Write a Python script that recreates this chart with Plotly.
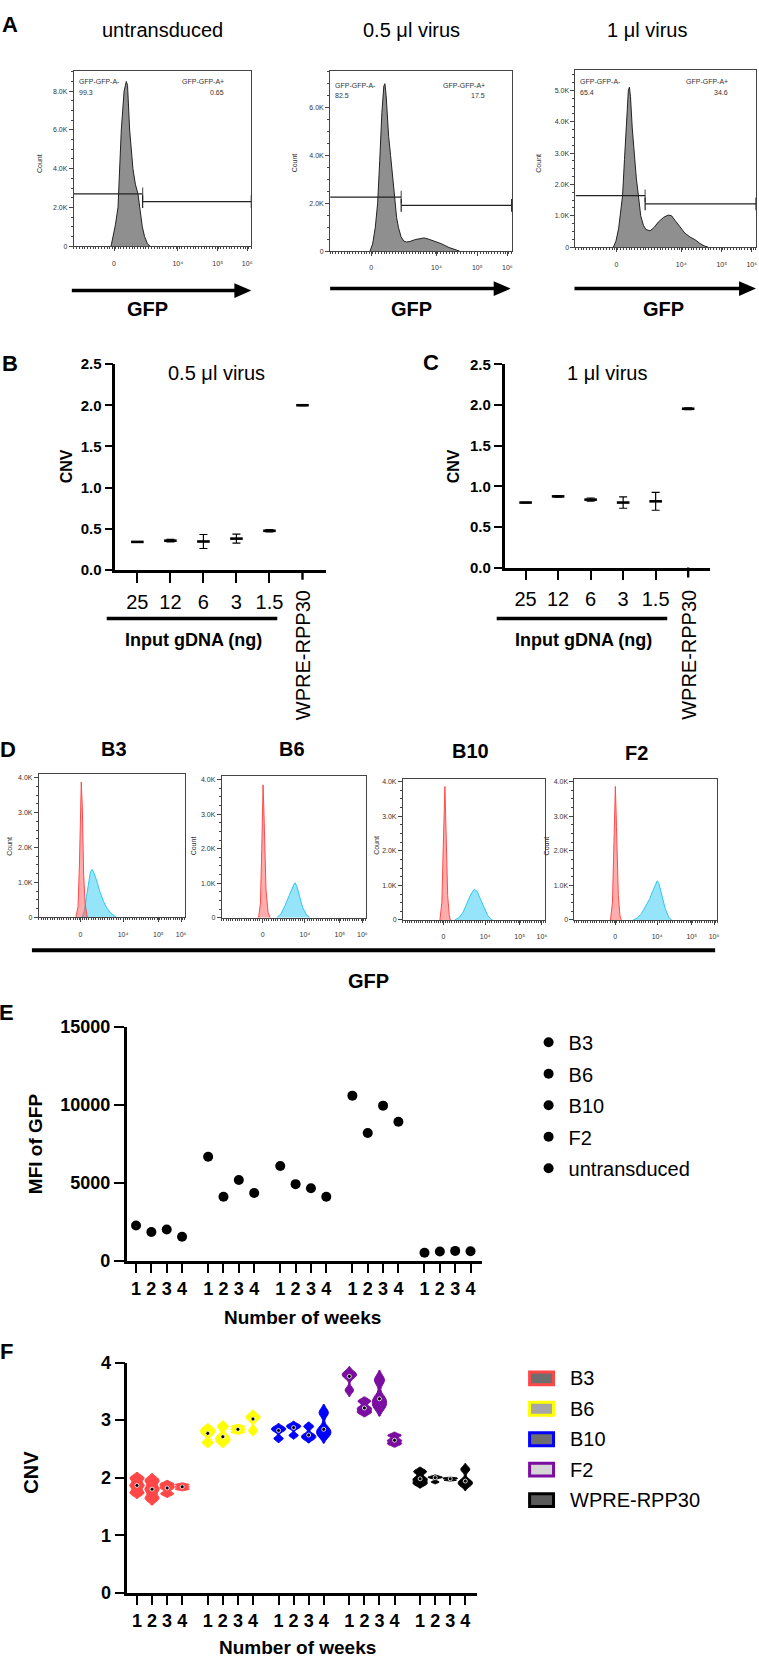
import numpy as np
import plotly.graph_objects as go

W, H = 759, 1665
FONT = "Liberation Sans, Arial, sans-serif"

# ======================= DATA =======================
# Panel A: flow histograms (display channel 0-1024, event count)
a_titles = ["untransduced", "0.5 μl virus", "1 μl virus"]
a1_channel = [215, 226, 240, 255, 265, 274, 290, 303, 310, 322, 341, 355, 370, 380, 395, 408, 425, 440]
a1_count = [0, 500, 1100, 2000, 4000, 6000, 8000, 8500, 8300, 6000, 4000, 3200, 2700, 2000, 1000, 500, 120, 0]
a2_channel = [225, 240, 255, 268, 280, 292, 303, 309, 316, 330, 341, 352, 364, 375, 385, 400, 415, 430,
              450, 480, 510, 530, 555, 590, 630, 670, 700, 730]
a2_count = [0, 300, 1000, 2000, 3800, 5800, 6900, 7000, 6500, 4800, 4000, 3000, 2260, 1400, 1000, 600, 420, 380,
            400, 480, 540, 550, 500, 400, 300, 150, 70, 0]
a3_channel = [215, 230, 245, 258, 267, 278, 290, 300, 306, 312, 322, 335, 345, 357, 370, 385, 400, 423, 445,
              470, 500, 525, 545, 565, 590, 620, 650, 677, 705, 730, 752]
a3_count = [0, 200, 600, 1200, 1640, 2800, 4200, 5000, 5100, 4800, 3800, 2800, 2200, 1640, 1000, 700, 560, 520, 620,
            800, 950, 1020, 1000, 850, 650, 450, 320, 240, 120, 40, 0]
a_gate_split = [397, 401, 395]
a_gate_neg_level = [2700, 2260, 1640]
a_gate_pos_level = [2300, 1910, 1380]
a_gate_neg_pct = ["99.3", "82.5", "65.4"]
a_gate_pos_pct = ["0.65", "17.5", "34.6"]
a_ymax = [9030, 7520, 5640]
a_yticks = [[0, 2000, 4000, 6000, 8000], [0, 2000, 4000, 6000], [0, 1000, 2000, 3000, 4000, 5000]]
a_yticktext = [["0", "2.0K", "4.0K", "6.0K", "8.0K"], ["0", "2.0K", "4.0K", "6.0K"],
               ["0", "1.0K", "2.0K", "3.0K", "4.0K", "5.0K"]]
flow_xticktext = ["0", "10⁴", "10⁵", "10⁶"]

# Panels B / C: CNV vs input gDNA
cnv_categories = ["25", "12", "6", "3", "1.5", "WPRE-RPP30"]
cnv_b_mean = [0.34, 0.355, 0.345, 0.38, 0.475, 2.0]
cnv_b_err = [0.004, 0.015, 0.085, 0.055, 0.015, 0.004]
cnv_c_mean = [0.80, 0.876, 0.836, 0.80, 0.815, 1.955]
cnv_c_err = [0.004, 0.01, 0.02, 0.07, 0.11, 0.012]

# Panel D: clone histograms (red = untransduced, blue = clone)
d_titles = ["B3", "B6", "B10", "F2"]
d1_red_ch = [260, 275, 285, 292, 298, 305, 315, 325, 340]
d1_red = [0, 300, 1500, 3000, 3880, 3200, 1200, 400, 0]
d1_blue_ch = [305, 320, 335, 350, 362, 374, 390, 410, 430, 455, 480, 505, 530, 545]
d1_blue = [0, 200, 600, 1000, 1300, 1370, 1250, 1000, 720, 450, 250, 120, 40, 0]
d2_red_ch = [262, 275, 285, 294, 302, 315, 330, 345]
d2_red = [0, 400, 2000, 3850, 2800, 800, 150, 0]
d2_blue_ch = [390, 420, 450, 480, 500, 515, 522, 535, 555, 575, 600, 625]
d2_blue = [0, 100, 350, 650, 850, 980, 1010, 900, 600, 300, 100, 0]
d3_red_ch = [266, 280, 292, 302, 310, 322, 333, 341]
d3_red = [0, 500, 2400, 3860, 2600, 700, 150, 0]
d3_blue_ch = [374, 400, 430, 460, 490, 513, 535, 560, 585, 610, 630, 644]
d3_blue = [0, 60, 200, 450, 750, 890, 820, 580, 330, 130, 40, 0]
d4_red_ch = [258, 272, 284, 293, 301, 314, 326, 335]
d4_red = [0, 500, 2400, 3860, 2700, 700, 120, 0]
d4_blue_ch = [421, 450, 480, 510, 540, 565, 585, 593, 605, 625, 650, 675, 695]
d4_blue = [0, 60, 180, 380, 620, 880, 1080, 1130, 1050, 750, 330, 80, 0]

# Panel E: MFI of GFP per week
weeks = ["1", "2", "3", "4"]
e_clones = ["B3", "B6", "B10", "F2", "untransduced"]
mfi_B3 = [2260, 1840, 2010, 1545]
mfi_B6 = [6660, 4100, 5180, 4340]
mfi_B10 = [6070, 4910, 4650, 4100]
mfi_F2 = [10580, 8190, 9940, 8910]
mfi_untransduced = [510, 590, 635, 615]

# Panel F: CNV replicates per week
f_clones = ["B3", "B6", "B10", "F2", "WPRE-RPP30"]
cnv_f_B3 = [[1.735, 1.865, 1.995], [1.64, 1.80, 1.955], [1.72, 1.82, 1.89], [1.80, 1.84, 1.88]]
cnv_f_B6 = [[2.61, 2.77, 2.85], [2.62, 2.71, 2.89], [2.79, 2.84, 2.89], [2.82, 3.02, 3.08]]
cnv_f_B10 = [[2.68, 2.82, 2.87], [2.735, 2.87, 2.915], [2.68, 2.74, 2.89], [2.74, 2.84, 3.13]]
cnv_f_F2 = [[3.52, 3.76, 3.82], [3.13, 3.21, 3.33], [3.235, 3.37, 3.695], [2.585, 2.65, 2.735]]
cnv_f_WPRE = [[1.895, 1.98, 2.105], [1.925, 2.0, 2.015], [1.955, 1.98, 1.995], [1.875, 1.94, 2.145]]

# ======================= LAYOUT HELPERS =======================
def px(x):
    return x / W


def py(y):
    return 1 - y / H


layout_axes = {}
annotations = []
shapes = []
fig = go.Figure()


def axis_pair(n, xpx, ypx, xcfg, ycfg):
    xk = "xaxis" if n == 1 else f"xaxis{n}"
    yk = "yaxis" if n == 1 else f"yaxis{n}"
    xr = "x" if n == 1 else f"x{n}"
    yr = "y" if n == 1 else f"y{n}"
    layout_axes[xk] = dict(domain=[px(xpx[0]), px(xpx[1])], anchor=yr, **xcfg)
    layout_axes[yk] = dict(domain=[py(ypx[1]), py(ypx[0])], anchor=xr, **ycfg)
    return xr, yr


def text(x, y, s, size, bold=False, xanchor="center", angle=0, color="black", xref="paper"):
    annotations.append(dict(
        x=x if xref != "paper" else px(x), y=py(y), xref=xref, yref="paper", text=s, showarrow=False,
        xanchor=xanchor, yanchor="middle", textangle=angle,
        font=dict(family=FONT, size=size, color=color, weight="bold" if bold else "normal")))


def flow_axes(n, xpx, ypx, ymax, yticks, yticktext, xtickvals, fsize):
    xcfg = dict(range=[0, 1024], showline=True, linecolor="#444", linewidth=1, mirror=True,
                ticks="outside", ticklen=4, tickwidth=1, tickcolor="#444",
                tickvals=xtickvals, ticktext=flow_xticktext,
                tickfont=dict(family=FONT, size=fsize, color="#333"), ticklabelstandoff=6,
                minor=dict(ticks="outside", ticklen=2, tickmode="linear", tick0=0, dtick=16, tickcolor="#444"),
                showgrid=False, zeroline=False)
    ycfg = dict(range=[0, ymax], showline=True, linecolor="#444", linewidth=1, mirror=True,
                ticks="outside", ticklen=4, tickwidth=1, tickcolor="#444",
                tickvals=yticks, ticktext=yticktext,
                tickfont=dict(family=FONT, size=fsize, color="#333"),
                minor=dict(ticks="outside", ticklen=2, tickmode="linear", tick0=0, dtick=yticks[1] / 4,
                           tickcolor="#444"),
                showgrid=False, zeroline=False)
    return axis_pair(n, xpx, ypx, xcfg, ycfg)


# ======================= PANEL A =======================
A_TICKS = [232, 600, 830, 1000]
a_frames = [((74, 252), (62, 239)), ((331, 513), (62, 244)), ((577, 758), (61, 240))]
a_curves = [(a1_channel, a1_count), (a2_channel, a2_count), (a3_channel, a3_count)]
a_title_x = [163, 413, 649]
a_count_x = [39, 295, 540]
a_lbl = [((77.7, 227), (72.7, 84)), ((334.3, 488.3), (76, 86.7)), ((579.3, 732.3), (72.7, 83.3))]
a_arrows = [(72, 252, 284), (331, 512, 282), (576, 758, 282)]
a_gfp_x = [148, 413, 665]

for i in range(3):
    n = i + 1
    xr, yr = flow_axes(n, a_frames[i][0], a_frames[i][1], a_ymax[i], a_yticks[i], a_yticktext[i], A_TICKS, 7)
    ch, cnt = a_curves[i]
    fig.add_trace(go.Scatter(x=ch, y=cnt, mode="lines", fill="tozeroy", fillcolor="#8f8f8f",
                             line=dict(color="#222", width=1), xaxis=xr, yaxis=yr, showlegend=False,
                             name=a_titles[i]))
    # gates
    fig.add_trace(go.Scatter(x=[0, a_gate_split[i]], y=[a_gate_neg_level[i]] * 2, mode="lines+markers",
                             line=dict(color="#222", width=1.2),
                             marker=dict(symbol="line-ns", size=[0, 9], line=dict(width=1.2, color="#222")),
                             xaxis=xr, yaxis=yr, showlegend=False, cliponaxis=False, name="GFP-GFP-A-"))
    fig.add_trace(go.Scatter(x=[a_gate_split[i], 1024], y=[a_gate_pos_level[i]] * 2, mode="lines+markers",
                             line=dict(color="#222", width=1.2),
                             marker=dict(symbol="line-ns", size=9, line=dict(width=1.2, color="#222")),
                             xaxis=xr, yaxis=yr, showlegend=False, cliponaxis=False, name="GFP-GFP-A+"))
    (lx, rx), (ly1, ly2) = a_lbl[i]
    text(lx, ly1, "GFP-GFP-A-", 7, xanchor="left", color="#333")
    text(lx, ly2, a_gate_neg_pct[i], 7, xanchor="left", color="#333")
    text(rx, ly1, "GFP-GFP-A+", 7, xanchor="right", color="#333")
    text(rx, ly2, a_gate_pos_pct[i], 7, xanchor="right", color="#333")
    text(a_count_x[i], 155, "Count", 7, angle=-90, color="#333")
    text(a_title_x[i], 20, a_titles[i], 20)
    x0, x1, yy = a_arrows[i]
    shapes.append(dict(type="line", xref="paper", yref="paper", x0=px(x0), x1=px(x1 - 14), y0=py(yy), y1=py(yy),
                       line=dict(width=3.5, color="black")))
    shapes.append(dict(type="path", xref="paper", yref="paper",
                       path=f"M {px(x1 - 17)},{py(yy - 7.5)} L {px(x1)},{py(yy)} L {px(x1 - 17)},{py(yy + 7.5)} Z",
                       fillcolor="black", line=dict(width=0)))
    text(a_gfp_x[i], 303, "GFP", 20, bold=True)

text(10, 15, "A", 22, bold=True)

# ======================= PANELS B / C =======================
cat_pos = list(range(len(cnv_categories)))
bc_specs = [
    (4, (115.7, 326.7), (358.4, 566.7), [-0.665, 5.707], cnv_b_mean, cnv_b_err, "0.5 μl virus", 217, 67,
     (107, 278), 194, "B", 10, 358),
    (5, (506, 711.7), (358.8, 564.3), [-0.644, 5.666], cnv_c_mean, cnv_c_err, "1 μl virus", 609, 455,
     (498, 669), 585, "C", 432, 357),
]
for (n, xpx, ypx, xrng, mean, err, title, tx, cnvx, ul, ulx, letter, lx, ly) in bc_specs:
    xcfg = dict(range=xrng, showline=True, linecolor="black", linewidth=2.6, ticks="outside", ticklen=10,
                tickwidth=2.4, tickcolor="black", tickvals=cat_pos[:-1],
                ticktext=cnv_categories[:-1],
                tickfont=dict(family=FONT, size=20, color="black"), ticklabelstandoff=2,
                showgrid=False, zeroline=False)
    ycfg = dict(range=[0, 2.5], showline=True, linecolor="black", linewidth=2.6, ticks="outside", ticklen=8,
                tickwidth=2.4, tickcolor="black", tickvals=[0, 0.5, 1.0, 1.5, 2.0, 2.5], tickformat=".1f",
                tickfont=dict(family=FONT, size=15, color="black", weight="bold"),
                showgrid=False, zeroline=False)
    xr, yr = axis_pair(n, xpx, ypx, xcfg, ycfg)
    fig.add_trace(go.Scatter(x=cat_pos, y=mean, mode="markers",
                             marker=dict(symbol="line-ew", size=9, line=dict(width=2.6, color="black")),
                             error_y=dict(type="data", array=err, visible=True, thickness=1.2, width=4,
                                          color="black"),
                             xaxis=xr, yaxis=yr, showlegend=False, name=title, cliponaxis=False,
                             text=cnv_categories))
    # tick mark for the reference category (its label is drawn rotated below)
    shapes.append(dict(type="line", xref=xr, yref="paper", x0=cat_pos[-1], x1=cat_pos[-1],
                       y0=py(ypx[1]), y1=py(ypx[1] + 10), line=dict(width=2.4, color="black")))
    text(tx, 367, title, 20)
    text(cnvx, 462, "CNV", 16, bold=True, angle=-90)
    shapes.append(dict(type="line", xref="paper", yref="paper", x0=px(ul[0]), x1=px(ul[1]), y0=py(616),
                       y1=py(616), line=dict(width=3.5, color="black")))
    text(ulx, 638, "Input gDNA (ng)", 18, bold=True)
    text(cat_pos[-1], 652.5, cnv_categories[-1], 20, angle=-90, xref=xr)
    text(lx, ly, letter, 22, bold=True)

# ======================= PANEL D =======================
D_TICKS = [292, 592, 840, 1000]
d_frames = [((39, 185), (773.3, 918.3)), ((222.3, 366.7), (775.7, 918.7)),
            ((404, 546.7), (778.3, 921)), ((576, 719.3), (778.3, 921))]
d_ymax = [4108, 4097, 4077, 4077]
d_red_curves = [(d1_red_ch, d1_red), (d2_red_ch, d2_red), (d3_red_ch, d3_red), (d4_red_ch, d4_red)]
d_blue_curves = [(d1_blue_ch, d1_blue), (d2_blue_ch, d2_blue), (d3_blue_ch, d3_blue), (d4_blue_ch, d4_blue)]
d_title_pos = [(114, 748), (293, 748), (471.7, 750), (637.7, 752)]
d_count_x = [10, 194, 378, 548]
for i in range(4):
    n = 6 + i
    xr, yr = flow_axes(n, d_frames[i][0], d_frames[i][1], d_ymax[i], [0, 1000, 2000, 3000, 4000],
                       ["0", "1.0K", "2.0K", "3.0K", "4.0K"], D_TICKS, 7)
    bch, bc = d_blue_curves[i]
    rch, rc = d_red_curves[i]
    fig.add_trace(go.Scatter(x=bch, y=bc, mode="lines", fill="tozeroy", fillcolor="rgba(80,210,245,0.6)",
                             line=dict(color="#2fc6ee", width=1), xaxis=xr, yaxis=yr, showlegend=False,
                             name=d_titles[i]))
    fig.add_trace(go.Scatter(x=rch, y=rc, mode="lines", fill="tozeroy", fillcolor="rgba(255,90,90,0.5)",
                             line=dict(color="#ff4a4a", width=1), xaxis=xr, yaxis=yr, showlegend=False,
                             name="untransduced"))
    text(d_title_pos[i][0], d_title_pos[i][1], d_titles[i], 20, bold=True)
    text(d_count_x[i], 846, "Count", 7, angle=-90, color="#333")

shapes.append(dict(type="line", xref="paper", yref="paper", x0=px(32), x1=px(717), y0=py(951.7), y1=py(951.7),
                   line=dict(width=4, color="black")))
text(369, 983, "GFP", 20, bold=True)
text(8, 748, "D", 22, bold=True)

# ======================= PANEL E =======================
GAP = 0.7
group_pos = [[g * (len(weeks) + GAP) + w for w in range(len(weeks))] for g in range(5)]
all_pos = [p for grp in group_pos for p in grp]
all_weeks = weeks * 5

e_series = [mfi_B3, mfi_B6, mfi_B10, mfi_F2, mfi_untransduced]
xcfg = dict(range=[-0.61, 22.53], showline=True, linecolor="black", linewidth=2.5, ticks="outside", ticklen=9,
            tickwidth=2.4, tickcolor="black", tickvals=all_pos, ticktext=all_weeks,
            tickfont=dict(family=FONT, size=18, color="black", weight="bold"), ticklabelstandoff=1,
            showgrid=False, zeroline=False)
ycfg = dict(range=[0, 15000], showline=True, linecolor="black", linewidth=2.5, ticks="outside", ticklen=10,
            tickwidth=2.4, tickcolor="black", tickvals=[0, 5000, 10000, 15000],
            ticktext=["0", "5000", "10000", "15000"],
            tickfont=dict(family=FONT, size=18, color="black", weight="bold"),
            showgrid=False, zeroline=False)
xr, yr = axis_pair(10, (127, 483), (1029, 1266), xcfg, ycfg)
for g, (name, vals) in enumerate(zip(e_clones, e_series)):
    fig.add_trace(go.Scatter(x=group_pos[g], y=vals, mode="markers", name=name, legendgroup=name,
                             marker=dict(size=10, color="black", symbol="circle"),
                             xaxis=xr, yaxis=yr, cliponaxis=False))
text(35, 1147, "MFI of GFP", 19, bold=True, angle=-90)
text(303, 1323, "Number of weeks", 19, bold=True)
text(7, 1015, "E", 22, bold=True)

# ======================= PANEL F =======================
f_series = [cnv_f_B3, cnv_f_B6, cnv_f_B10, cnv_f_F2, cnv_f_WPRE]
f_colors = ["#ff4747", "#ffff00", "#0000ff", "#7b0da0", "#000000"]
f_legend_fill = ["#6e6e6e", "#a6a6a6", "#6e6e6e", "#d6d6d6", "#5a5a5a"]
xcfg = dict(range=[-0.64, 22.56], showline=True, linecolor="black", linewidth=2.5, ticks="outside", ticklen=9,
            tickwidth=2.4, tickcolor="black", tickvals=all_pos, ticktext=all_weeks,
            tickfont=dict(family=FONT, size=18, color="black", weight="bold"), ticklabelstandoff=1,
            showgrid=False, zeroline=False)
ycfg = dict(range=[0, 4], showline=True, linecolor="black", linewidth=2.5, ticks="outside", ticklen=10,
            tickwidth=2.4, tickcolor="black", tickvals=[0, 1, 2, 3, 4],
            tickfont=dict(family=FONT, size=18, color="black", weight="bold"),
            showgrid=False, zeroline=False)
xr, yr = axis_pair(11, (127.7, 478), (1369, 1602), xcfg, ycfg)
for g, (name, reps) in enumerate(zip(f_clones, f_series)):
    for w, vals in enumerate(reps):
        bw = 0.18 * (max(vals) - min(vals))
        fig.add_trace(go.Violin(x=[group_pos[g][w]] * len(vals), y=vals, name=name, legendgroup="f_" + name,
                                width=0.95, scalemode="width", spanmode="soft", bandwidth=bw,
                                fillcolor=f_colors[g], line=dict(color=f_colors[g], width=1), opacity=1,
                                points=False, box_visible=False, meanline_visible=False, showlegend=False,
                                xaxis=xr, yaxis=yr))
    med = [float(np.median(v)) for v in reps]
    fig.add_trace(go.Scatter(x=group_pos[g], y=med, mode="markers", showlegend=False, name=name + " median",
                             marker=dict(size=4, color="black", line=dict(color="white", width=0.8)),
                             xaxis=xr, yaxis=yr))
    # legend entry (box with coloured border, grey fill)
    ly = 1385 + g * 30.8
    shapes.append(dict(type="rect", xref="paper", yref="paper", x0=px(531), x1=px(555), y0=py(ly - 6.5),
                       y1=py(ly + 6.5), fillcolor=f_legend_fill[g], line=dict(color=f_colors[g], width=3)))
    text(569, ly, name, 20, xanchor="left")

text(31.5, 1480, "CNV", 20, bold=True, angle=-90)
text(298, 1657, "Number of weeks", 19, bold=True)
text(7, 1358, "F", 22, bold=True)

fig.update_layout(
    width=W, height=H, margin=dict(l=0, r=0, t=0, b=0),
    paper_bgcolor="white", plot_bgcolor="white",
    font=dict(family=FONT, color="black"),
    annotations=annotations, shapes=shapes,
    violinmode="overlay",
    showlegend=True,
    legend=dict(x=px(530), y=py(1025), xanchor="left", yanchor="top", tracegroupgap=2.5,
                font=dict(family=FONT, size=20, color="black"), bgcolor="rgba(0,0,0,0)",
                itemclick=False, itemdoubleclick=False),
    **layout_axes,
)

fig.write_html("out.html")
